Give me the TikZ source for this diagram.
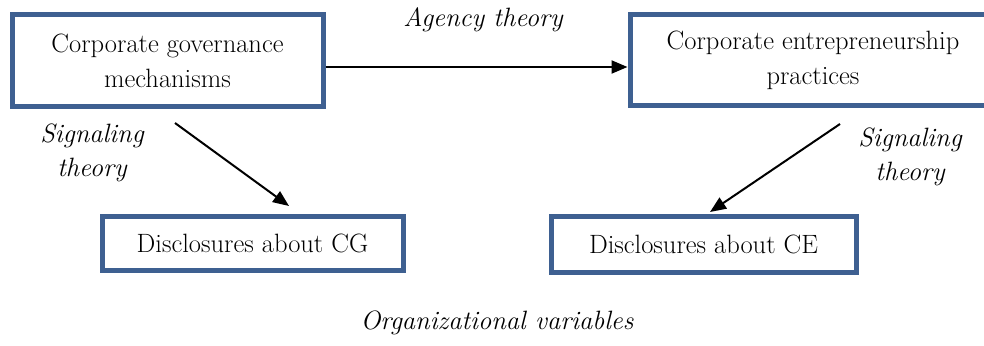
\documentclass[tikz,border=0pt]{standalone}
\usepackage{fontspec}
\usetikzlibrary{arrows.meta,calc}
\definecolor{boxblue}{RGB}{62,96,145}
\tikzset{
  box/.style={draw=boxblue, line width=5pt, rectangle, align=center, inner sep=0pt,
    font=\rmfamily\fontsize{26.5}{35}\selectfont},
  lbl/.style={align=center, inner sep=0pt, font=\rmfamily\fontsize{26.5}{34}\selectfont\itshape},
  arr/.style={line width=2pt, -{Triangle[length=16pt,width=13pt]}}
}
\begin{document}
\begin{tikzpicture}[x=1pt,y=-1pt]
\useasboundingbox (0,0) rectangle (984,345);
\node[box, minimum width=311pt, minimum height=91pt] (cg) at (167.5,60.5) {Corporate governance\\mechanisms};
\node[box, minimum width=366pt, minimum height=90pt] (ce) at (813,60) {Corporate entrepreneurship\\practices};
\node[box, minimum width=301pt, minimum height=54pt] (dcg) at (252.5,243) {Disclosures about CG};
\node[box, minimum width=305pt, minimum height=56pt] (dce) at (703.5,244) {Disclosures about CE};
\node[lbl] (agency) at (483,20) {Agency theory};
\node[lbl] (sigl) at (92,153) {Signaling\\theory};
\node[lbl] (sigr) at (910,157) {Signaling\\theory};
\node[lbl] (org) at (497,323) {Organizational variables};
\coordinate (s1) at (175,123);
\coordinate (e1) at (289,206);
\coordinate (s2) at (840,124);
\coordinate (e2) at (710,212);
\draw[arr] ([yshift=-6.5pt]cg.east) -- ([yshift=-6.5pt]cg.east -| ce.west);
\draw[arr] (s1) -- (e1);
\draw[arr] (s2) -- (e2);
\end{tikzpicture}
\end{document}
